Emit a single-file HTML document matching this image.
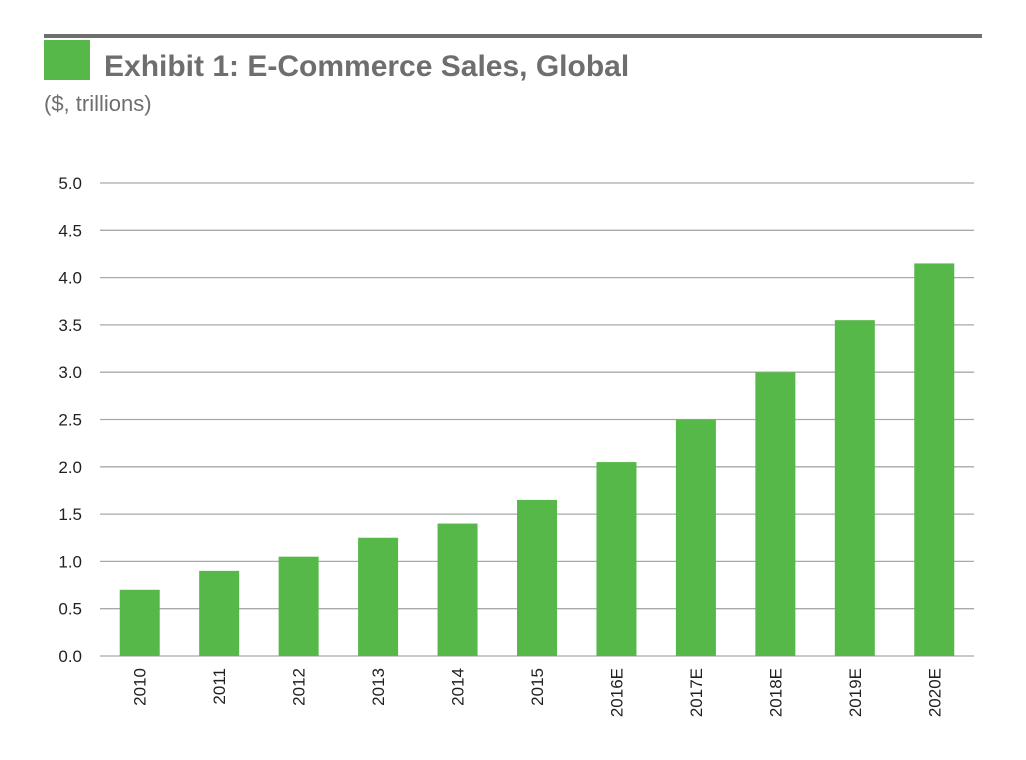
<!DOCTYPE html>
<html><head><meta charset="utf-8"><style>
body{margin:0;background:#fff;}
svg{display:block;font-family:"Liberation Sans",Arial,sans-serif;}
</style></head><body>
<svg width="1026" height="760">
<rect x="44" y="34" width="938" height="4" fill="#6d6e70"/>
<rect x="44" y="40" width="46" height="40" fill="#56b848"/>
<text x="104" y="76" font-size="30" font-weight="bold" fill="#6d6e70">Exhibit 1: E-Commerce Sales, Global</text>
<text x="44" y="111" font-size="22" fill="#6d6e70">($, trillions)</text>
<g id="grid"></g><g id="bars"></g><g id="xlabels"></g>
</svg>
<script>
const categories=["2010","2011","2012","2013","2014","2015","2016E","2017E","2018E","2019E","2020E"];
const values=[0.7,0.9,1.05,1.25,1.4,1.65,2.05,2.5,3.0,3.55,4.15];
const ticks=[0,0.5,1,1.5,2,2.5,3,3.5,4,4.5,5];
const tickLabels=["0.0","0.5","1.0","1.5","2.0","2.5","3.0","3.5","4.0","4.5","5.0"];
const NS="http://www.w3.org/2000/svg";
const x0=100,x1=974,yBase=656,yTop=183,vMax=5;
const y=v=>yBase-(v/vMax)*(yBase-yTop);
const band=(x1-x0)/categories.length;
const xc=i=>x0+band*(i+0.5);
function mk(t,a){const e=document.createElementNS(NS,t);for(const k in a)e.setAttribute(k,a[k]);return e;}
const g=document.getElementById('grid');
ticks.forEach((t,i)=>{
 const l=mk('line',{x1:x0,x2:x1,y1:y(t),y2:y(t),stroke:'#a7a9ac','stroke-width':1.3});
 
 
 g.appendChild(l);
 const tx=mk('text',{x:82,y:y(t)+6,'font-size':17,'text-anchor':'end',fill:'#231f20'});
 tx.textContent=tickLabels[i];
 
 
 g.appendChild(tx);
});
const b=document.getElementById('bars'),xl=document.getElementById('xlabels');
values.forEach((v,i)=>{
 const r=mk('rect',{x:xc(i)-20,y:y(v),width:40,height:yBase-y(v),fill:'#56b848'});
 
 
 b.appendChild(r);
 const t=mk('text',{x:0,y:0,'font-size':17,'text-anchor':'end',fill:'#231f20',transform:`translate(${xc(i)+6},668) rotate(-90)`});
 t.textContent=categories[i];
 
 
 xl.appendChild(t);
});
</script>
</body></html>
